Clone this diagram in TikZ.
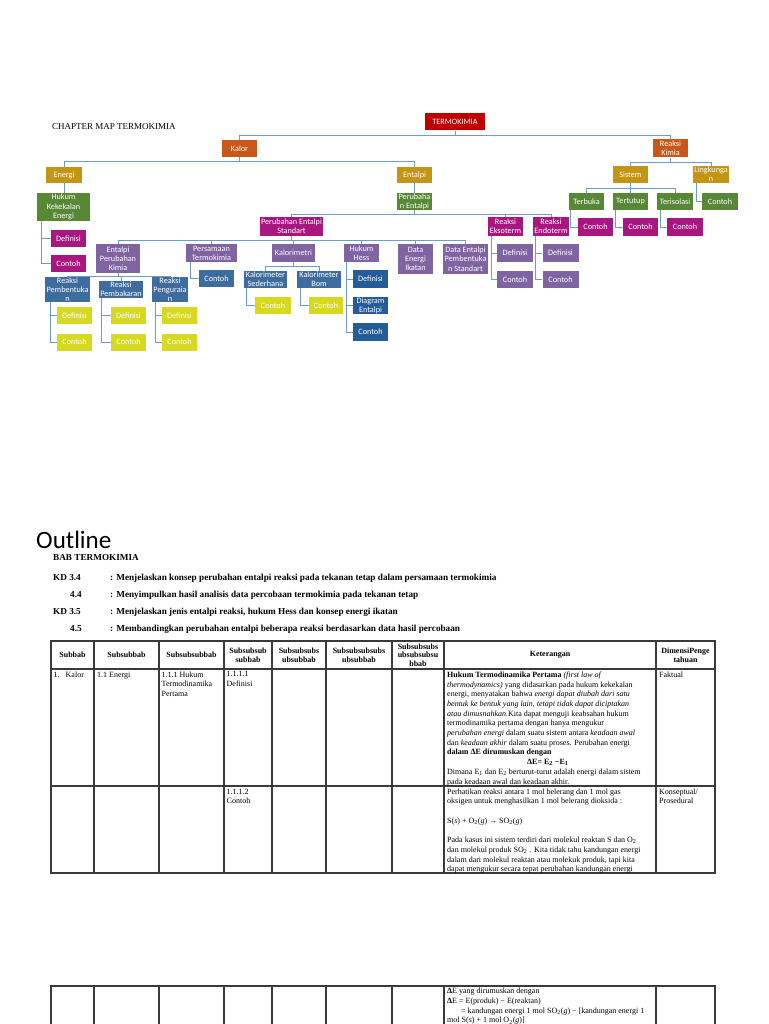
\documentclass[tikz,border=0pt]{standalone}
\usepackage{fontspec}
\setmainfont{Liberation Serif}
\newfontfamily\mapfont{Carlito}
\usepackage{tikz}
\usepackage{xcolor}
\definecolor{cred}{HTML}{C00000}
\definecolor{corange}{HTML}{C8581A}
\definecolor{cgold}{HTML}{C39512}
\definecolor{cgreen}{HTML}{588736}
\definecolor{cmagenta}{HTML}{A8167F}
\definecolor{cpurple}{HTML}{8064A2}
\definecolor{csteel}{HTML}{3F6C9E}
\definecolor{cnavy}{HTML}{245C97}
\definecolor{cyellow}{HTML}{D6D91F}
\definecolor{linkblue}{HTML}{6E9BCD}
\definecolor{gridgray}{HTML}{3A3A3A}

\begin{document}
\begin{tikzpicture}[x=1pt,y=-1pt,
  box/.style={fill=#1, inner sep=0pt, align=center, text=white,
    font=\mapfont\fontsize{8.2}{9.2}\selectfont},
  link/.style={draw=linkblue, line width=0.9pt},
  grid/.style={draw=gridgray, line width=1.1pt, line cap=rect},
  head/.style={inner sep=0pt, align=center, font=\bfseries\fontsize{8}{8.6}\selectfont},
  cell/.style={inner sep=0pt, anchor=north west, align=left, font=\fontsize{8}{9.7}\selectfont},
  kd/.style={inner sep=0pt, anchor=base west, font=\bfseries\fontsize{9.2}{10}\selectfont}]
  \useasboundingbox (0,0) rectangle (768,1024);

  % ---- chapter map ----
  \node[anchor=base west, inner sep=0pt, font=\fontsize{9}{10}\selectfont] (maptitle) at (52,130) {CHAPTER MAP TERMOKIMIA};

  % top levels
  \node[box=cred, minimum width=60, minimum height=17] (termo) at (455,122) {TERMOKIMIA};
  \node[box=corange, minimum width=35, minimum height=17] (kalor) at (239.5,148.5) {Kalor};
  \node[box=corange, minimum width=35, minimum height=18] (rkimia) at (670.5,148.5) {Reaksi\\Kimia};
  \node[box=cgold, minimum width=36, minimum height=16] (energi) at (64,175) {Energi};
  \node[box=cgold, minimum width=35, minimum height=16] (entalpi) at (414.5,175) {Entalpi};

  % energi branch
  \node[box=cgreen, minimum width=53, minimum height=28] (hukum) at (63.5,207) {Hukum\\Kekekalan\\Energi};
  \node[box=cmagenta, minimum width=35, minimum height=17] (defA) at (68.5,238.5) {Definisi};
  \node[box=cmagenta, minimum width=35, minimum height=17] (conA) at (68.5,263.5) {Contoh};

  % entalpi branch
  \node[box=cgreen, minimum width=35, minimum height=17] (perent) at (414.5,201.5) {Perubaha\\n Entalpi};
  \node[box=cmagenta, minimum width=63, minimum height=19] (pestd) at (291.5,226.5) {Perubahan Entalpi\\Standart};
  \node[box=cmagenta, minimum width=35, minimum height=19] (ekso) at (505.5,226.5) {Reaksi\\Eksoterm};
  \node[box=cmagenta, minimum width=36, minimum height=19] (endo) at (551,226.5) {Reaksi\\Endoterm};
  \node[box=cpurple, minimum width=36, minimum height=18] (defE) at (515,253) {Definisi};
  \node[box=cpurple, minimum width=36, minimum height=17] (conE) at (515,279.5) {Contoh};
  \node[box=cpurple, minimum width=36, minimum height=18] (defN) at (560.5,253) {Definisi};
  \node[box=cpurple, minimum width=36, minimum height=17] (conN) at (560.5,279.5) {Contoh};

  % standart entalpi children
  \node[box=cpurple, minimum width=44, minimum height=29] (epk) at (118,258.5) {Entalpi\\Perubahan\\Kimia};
  \node[box=cpurple, minimum width=51, minimum height=18] (pers) at (211.5,253) {Persamaan\\Termokimia};
  \node[box=cpurple, minimum width=43, minimum height=18] (kalm) at (293.5,253) {Kalorimetri};
  \node[box=cpurple, minimum width=35, minimum height=18] (hess) at (361.5,253) {Hukum\\Hess};
  \node[box=cpurple, minimum width=35, minimum height=30] (dei) at (415.5,259) {Data\\Energi\\Ikatan};
  \node[box=cpurple, minimum width=45, minimum height=30] (deps) at (465.5,259) {Data Entalpi\\Pembentuka\\n Standart};

  % reaksi kinds
  \node[box=csteel, minimum width=45, minimum height=17] (rpb) at (67.5,289.5) {Reaksi\\Pembentuka\\n};
  \node[box=csteel, minimum width=44, minimum height=17] (rpk) at (121,289.5) {Reaksi\\Pembakaran};
  \node[box=csteel, minimum width=36, minimum height=17] (rpu) at (170,289.5) {Reaksi\\Penguraia\\n};
  \node[box=cyellow, minimum width=35, minimum height=17] (defP1) at (74.5,315.5) {Definisi};
  \node[box=cyellow, minimum width=35, minimum height=17] (conP1) at (74.5,342) {Contoh};
  \node[box=cyellow, minimum width=35, minimum height=17] (defP2) at (128.5,315.5) {Definisi};
  \node[box=cyellow, minimum width=35, minimum height=17] (conP2) at (128.5,342) {Contoh};
  \node[box=cyellow, minimum width=35, minimum height=17] (defP3) at (179.5,315.5) {Definisi};
  \node[box=cyellow, minimum width=35, minimum height=17] (conP3) at (179.5,342) {Contoh};
  \node[box=csteel, minimum width=35, minimum height=17] (conPs) at (216.5,278.5) {Contoh};

  % kalorimetri, hess
  \node[box=csteel, minimum width=43, minimum height=17] (ksed) at (265.5,279.5) {Kalorimeter\\Sederhana};
  \node[box=csteel, minimum width=44, minimum height=17] (kbom) at (319,279.5) {Kalorimeter\\Bom};
  \node[box=cyellow, minimum width=36, minimum height=17] (conKs) at (273,305.5) {Contoh};
  \node[box=cyellow, minimum width=34, minimum height=17] (conKb) at (326,305.5) {Contoh};
  \node[box=cnavy, minimum width=35, minimum height=18] (defH) at (370.5,279) {Definisi};
  \node[box=cnavy, minimum width=35, minimum height=17] (diaH) at (370.5,305.5) {Diagram\\Entalpi};
  \node[box=cnavy, minimum width=35, minimum height=18] (conH) at (370.5,332) {Contoh};

  % reaksi kimia branch
  \node[box=cgold, minimum width=35, minimum height=17] (sistem) at (630.5,174.5) {Sistem};
  \node[box=cgold, minimum width=36, minimum height=17] (lingk) at (711,174.5) {Lingkunga\\n};
  \node[box=cgreen, minimum width=36, minimum height=17] (conL) at (720,201.5) {Contoh};
  \node[box=cgreen, minimum width=35, minimum height=17] (terbuka) at (586.5,201.5) {Terbuka};
  \node[box=cgreen, minimum width=35, minimum height=17] (tertutup) at (630.5,201.5) {Tertutup};
  \node[box=cgreen, minimum width=36, minimum height=17] (terisol) at (675,201.5) {Terisolasi};
  \node[box=cmagenta, minimum width=35, minimum height=18] (conS1) at (595.5,227) {Contoh};
  \node[box=cmagenta, minimum width=35, minimum height=18] (conS2) at (640.5,227) {Contoh};
  \node[box=cmagenta, minimum width=36, minimum height=18] (conS3) at (685,227) {Contoh};

  % bus connectors
  \foreach \c in {kalor,rkimia} \draw[link] (termo.south) -- ++(0,4.5) -| (\c.north);
  \foreach \c in {energi,entalpi} \draw[link] (kalor.south) -- ++(0,4.7) -| (\c.north);
  \foreach \c in {pestd,ekso,endo} \draw[link] (perent.south) -- ++(0,4.7) -| (\c.north);
  \foreach \c in {epk,pers,kalm,hess,dei,deps} \draw[link] (pestd.south) -- ++(0,4) -| (\c.north);
  \foreach \c in {rpb,rpk,rpu} \draw[link] (epk.south) -- ++(0,3.7) -| (\c.north);
  \foreach \c in {ksed,kbom} \draw[link] (kalm.south) -- ++(0,4.7) -| (\c.north);
  \foreach \c in {sistem,lingk} \draw[link] (rkimia.south) -- ++(0,4.4) -| (\c.north);
  \foreach \c in {terbuka,tertutup,terisol} \draw[link] (sistem.south) -- ++(0,5.3) -| (\c.north);
  \draw[link] (energi.south) -- (energi.south |- hukum.north);
  \draw[link] (entalpi.south) -- (entalpi.south |- perent.north);

  % side connectors
  \foreach \p/\c/\s in {hukum/defA/5, hukum/conA/5, ekso/defE/3.7, ekso/conE/3.7,
      endo/defN/3, endo/conN/3, rpb/defP1/5.7, rpb/conP1/5.7, rpk/defP2/3, rpk/conP2/3,
      rpu/defP3/4, rpu/conP3/4, pers/conPs/4.7, ksed/conKs/2.7, kbom/conKb/4,
      hess/defH/2.7, hess/diaH/2.7, hess/conH/2.7, terbuka/conS1/2, tertutup/conS2/3,
      terisol/conS3/3.7, lingk/conL/3.7}
    \draw[link] ([xshift=\s]\p.south west) |- (\c.west);

  % ---- outline ----
  \node[anchor=base west, inner sep=0pt, font=\mapfont\fontsize{25}{30}\selectfont] (outline) at (36,548) {Outline};
  \node[kd] (bab) at (53,560) {BAB TERMOKIMIA};
  \foreach \y/\k/\kx/\t [count=\i] in {
      580/{KD 3.4}/53/{: Menjelaskan konsep perubahan entalpi reaksi pada tekanan tetap dalam persamaan termokimia},
      597/{4.4}/70/{: Menyimpulkan hasil analisis data percobaan termokimia pada tekanan tetap},
      614/{KD 3.5}/53/{: Menjelaskan jenis entalpi reaksi, hukum Hess dan konsep energi ikatan},
      631/{4.5}/70/{: Membandingkan perubahan entalpi beberapa reaksi berdasarkan data hasil percobaan}} {
    \node[kd] (kd\i) at (\kx,\y) {\k};
    \node[kd] (kdt\i) at (110,\y) {\t};
  }

  % ---- table ----
  \foreach \x in {51,94,159,224,272,326,392,444,656,715} {
    \draw[grid] (\x,641) -- (\x,873);
    \draw[grid] (\x,986) -- (\x,1026);
  }
  \foreach \y in {641,669,786,873,986} \draw[grid] (51,\y) -- (715,\y);

  \foreach \x/\t [count=\i] in {72.5/{Subbab}, 126.5/{Subsubbab}, 191.5/{Subsubsubbab},
      248/{Subsubsub\\subbab}, 299/{Subsubsubs\\ubsubbab}, 359/{Subsubsubsubs\\ubsubbab},
      418/{Subsubsubs\\ubsubsubsu\\bbab}, 550/{Keterangan}, 685.5/{DimensiPenge\\tahuan}}
    \node[head] (h\i) at (\x,655) {\t};

  \node[cell] (r1a) at (53.5,671.5) {1.\hspace{6pt}Kalor};
  \node[cell] (r1b) at (97,671.5) {1.1 Energi};
  \node[cell] (r1c) at (161.5,671.5) {1.1.1 Hukum\\Termodinamika\\Pertama};
  \node[cell] (r1d) at (226.5,671.5) {1.1.1.1\\Definisi};
  \node[cell] (r1k) at (447,671.5) {\textbf{Hukum Termodinamika Pertama} \textit{(first law of}\\
    \textit{thermodynamics)} yang didasarkan pada hukum kekekalan\\
    energi, menyatakan bahwa \textit{energi dapat diubah dari satu}\\
    \textit{bentuk ke bentuk yang lain, tetapi tidak dapat diciptakan}\\
    \textit{atau dimusnahkan.}Kita dapat menguji keabsahan hukum\\
    termodinamika pertama dengan hanya mengukur\\
    \textit{perubahan energi} dalam suatu sistem antara \textit{keadaan awal}\\
    dan \textit{keadaan akhir} dalam suatu proses. Perubahan energi\\
    \textbf{dalam ΔE dirumuskan dengan}\\
    \hspace*{80pt}\textbf{ΔE= E\textsubscript{2} −E\textsubscript{1}}\\
    Dimana E\textsubscript{1} dan E\textsubscript{2} berturut-turut adalah energi dalam sistem\\
    pada keadaan awal dan keadaan akhir.};
  \node[cell] (r1f) at (659,671.5) {Faktual};

  \node[cell] (r2d) at (226.5,788.5) {1.1.1.2\\Contoh};
  \node[cell] (r2k) at (447,788.5) {Perhatikan reaksi antara 1 mol belerang dan 1 mol gas\\
    oksigen untuk menghasilkan 1 mol belerang dioksida :\\[9.7pt]
    S(\textit{s}) + O\textsubscript{2}(\textit{g}) \textbf{→} SO\textsubscript{2}(\textit{g})\\[9.7pt]
    Pada kasus ini sistem terdiri dari molekul reaktan S dan O\textsubscript{2}\\
    dan molekul produk SO\textsubscript{2} . Kita tidak tahu kandungan energi\\
    dalam dari molekul reaktan atau molekuk produk, tapi kita\\
    dapat mengukur secara tepat perubahan kandungan energi};
  \node[cell] (r2f) at (659,788.5) {Konseptual/\\Prosedural};

  \node[cell] (r3k) at (447,988) {\textbf{Δ}E yang dirumuskan dengan\\
    \textbf{Δ}E = E(produk) − E(reaktan)\\
    \hspace*{14pt}= kandungan energi 1 mol SO\textsubscript{2}(\textit{g}) − [kandungan energi 1\\
    mol S(\textit{s}) + 1 mol O\textsubscript{2}(\textit{g})]};
\end{tikzpicture}
\end{document}
